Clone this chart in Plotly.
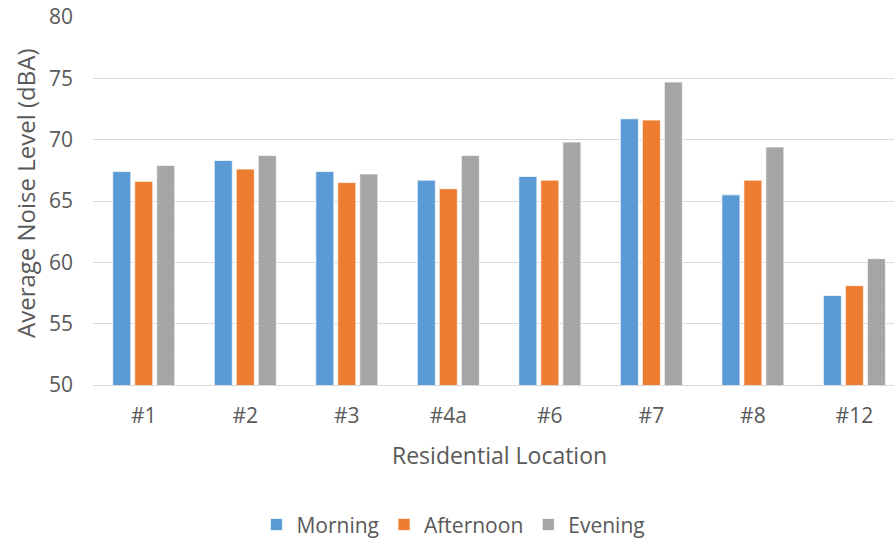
import plotly.graph_objects as go

# Average noise level by residential location and time of day
locations = ["#1", "#2", "#3", "#4a", "#6", "#7", "#8", "#12"]
morning = [67.4, 68.3, 67.4, 66.7, 67.0, 71.7, 65.5, 57.3]
afternoon = [66.6, 67.6, 66.5, 66.0, 66.7, 71.6, 66.7, 58.1]
evening = [67.9, 68.7, 67.2, 68.7, 69.8, 74.7, 69.4, 60.3]

y_ticks = [50, 55, 60, 65, 70, 75, 80]

text_color = "#595959"
grid_color = "#D9D9D9"
font_family = "Open Sans, DejaVu Sans, sans-serif"

fig = go.Figure()
fig.add_trace(go.Bar(
    name="Morning", x=locations, y=morning,
    marker=dict(color="#5B9BD5", line=dict(color="rgba(255,255,255,0.7)", width=1)),
))
fig.add_trace(go.Bar(
    name="Afternoon", x=locations, y=afternoon,
    marker=dict(color="#ED7D31", line=dict(color="rgba(255,255,255,0.7)", width=1)),
))
fig.add_trace(go.Bar(
    name="Evening", x=locations, y=evening,
    marker=dict(
        color="#A5A5A5",
        line=dict(color="rgba(255,255,255,0.7)", width=1),
        pattern=dict(shape=".", fgcolor="#979797", bgcolor="#A8A8A8", size=3, solidity=0.35),
    ),
))

fig.update_layout(
    width=894, height=539,
    margin=dict(l=93, r=0, t=17, b=154, autoexpand=False),
    paper_bgcolor="white", plot_bgcolor="white",
    barmode="group", bargap=0.35, bargroupgap=0.18,
    font=dict(family=font_family, size=21, color=text_color),
    showlegend=True,
    legend=dict(
        orientation="h", x=0.45, xanchor="center", y=-0.38, yanchor="middle",
        font=dict(size=21, color=text_color), itemwidth=30,
        traceorder="normal",
    ),
    xaxis=dict(
        range=[-0.5, 7.39], showgrid=False, showline=True, linecolor=grid_color,
        linewidth=1, ticks="", tickfont=dict(size=21, color=text_color),
        ticklabelstandoff=12,
    ),
    yaxis=dict(
        range=[50, 80], tickvals=y_ticks, showgrid=True, gridcolor=grid_color,
        gridwidth=1, zeroline=False, showline=False, ticks="",
        tickfont=dict(size=21, color=text_color), ticklabelstandoff=19,
    ),
    annotations=[
        dict(text="Residential Location", xref="paper", yref="paper",
             x=(499 - 93) / 801, y=(385 - 455) / 368, xanchor="center", yanchor="middle",
             showarrow=False, font=dict(size=23, color=text_color)),
        dict(text="Average Noise Level (dBA)", xref="paper", yref="paper",
             x=(25 - 93) / 801, y=(385 - 193) / 368, xanchor="center", yanchor="middle",
             textangle=-90, showarrow=False, font=dict(size=24, color=text_color)),
    ],
)

fig.write_html("out.html")
